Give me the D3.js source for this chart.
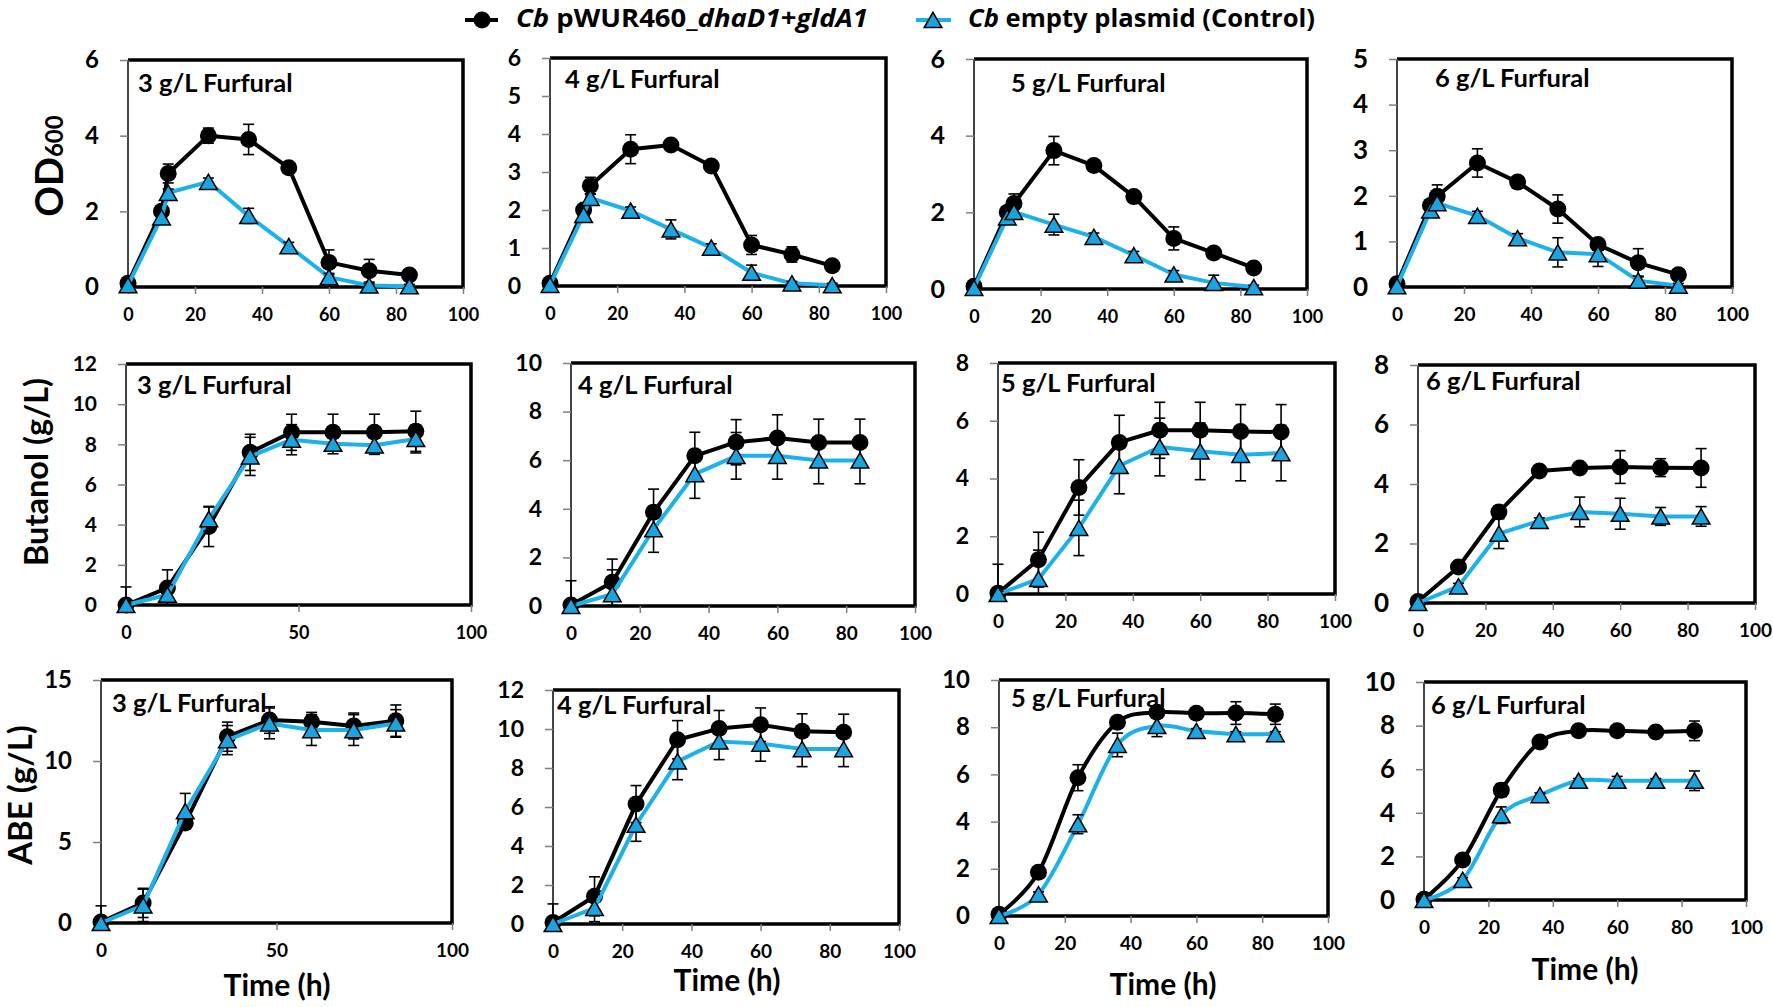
<!DOCTYPE html>
<html lang="en">
<head>
  <meta charset="UTF-8" />
  <title>Furfural tolerance of Cb strains</title>
  <script src="https://d3js.org/d3.v7.min.js"></script>
  <style>
    body { margin: 0; background: #fff; }
    svg text { font-family: Lato, "Open Sans", sans-serif; font-weight: 700; fill: #000; }
    svg text.legend { font-family: "Open Sans", Lato, sans-serif; }
  </style>
</head>
<body>
  <svg id="chart" width="1773" height="1007"></svg>

  <script>
    // sampling times (h)
    const timeOD = [0, 10, 12, 24, 36, 48, 60, 72, 84];
    const timeProd = [0, 12, 24, 36, 48, 60, 72, 84];
    const panelTitles = ["3 g/L Furfural", "4 g/L Furfural", "5 g/L Furfural", "6 g/L Furfural"];
    const seriesNames = ["pWUR460_", "empty plasmid (Control)"];

    // one row per furfural level: 3, 4, 5, 6 g/L
    const odGene = [
      [0.1, 2.0, 3.0, 4.0, 3.9, 3.15, 0.65, 0.43, 0.32],
      [0.07, 2.0, 2.64, 3.6, 3.71, 3.16, 1.08, 0.83, 0.53],
      [0.07, 2.0, 2.23, 3.61, 3.22, 2.41, 1.32, 0.94, 0.55],
      [0.07, 1.79, 1.99, 2.72, 2.3, 1.71, 0.93, 0.53, 0.27]
    ];
    const odGeneErr = [
      [0, 0, 0.25, 0.2, 0.4, 0.1, 0.33, 0.3, 0.1],
      [0, 0, 0.22, 0.38, 0.1, 0.1, 0.25, 0.2, 0.1],
      [0, 0, 0.25, 0.37, 0.12, 0.12, 0.3, 0.1, 0.1],
      [0, 0, 0.25, 0.31, 0.1, 0.31, 0.1, 0.31, 0.1]
    ];
    const odCtrl = [
      [0.05, 1.84, 2.49, 2.78, 1.88, 1.08, 0.26, 0.04, 0.02],
      [0.03, 1.87, 2.32, 1.98, 1.49, 1.01, 0.35, 0.07, 0.02],
      [0.03, 1.87, 2.01, 1.68, 1.36, 0.88, 0.38, 0.16, 0.05],
      [0.02, 1.68, 1.84, 1.56, 1.07, 0.76, 0.72, 0.14, 0.03]
    ];
    const odCtrlErr = [
      [0, 0, 0.1, 0.1, 0.2, 0.1, 0.1, 0.05, 0.05],
      [0, 0, 0.1, 0.1, 0.25, 0.1, 0.2, 0.05, 0.05],
      [0, 0, 0.1, 0.27, 0.1, 0.1, 0.1, 0.2, 0.05],
      [0, 0, 0.1, 0.1, 0.1, 0.32, 0.27, 0.1, 0.05]
    ];

    const butGene = [
      [0, 0.85, 3.91, 7.6, 8.6, 8.6, 8.6, 8.65],
      [0.04, 0.98, 3.86, 6.18, 6.74, 6.91, 6.73, 6.73],
      [0.03, 1.19, 3.69, 5.25, 5.67, 5.67, 5.63, 5.61],
      [0.05, 1.21, 3.06, 4.44, 4.54, 4.57, 4.55, 4.54]
    ];
    const butGeneErr = [
      [0.9, 0.9, 1.0, 0.9, 0.9, 0.9, 0.9, 1.0],
      [1.0, 0.95, 0.95, 0.97, 0.93, 0.96, 0.96, 0.96],
      [1.0, 0.95, 0.96, 0.94, 0.97, 0.97, 0.93, 0.95],
      [0.1, 0.1, 0.2, 0.1, 0.1, 0.55, 0.3, 0.65]
    ];
    const butCtrl = [
      [0, 0.51, 4.28, 7.4, 8.23, 8.03, 7.95, 8.27],
      [0, 0.49, 3.16, 5.43, 6.18, 6.18, 5.99, 5.99],
      [0, 0.52, 2.29, 4.44, 5.09, 4.94, 4.82, 4.88],
      [0, 0.56, 2.33, 2.76, 3.06, 3.0, 2.91, 2.91]
    ];
    const butCtrlErr = [
      [0.1, 0.5, 0.6, 0.95, 0.75, 0.5, 0.45, 0.7],
      [0.1, 1.0, 0.95, 1.0, 0.96, 0.96, 0.96, 0.96],
      [0.1, 1.0, 0.96, 0.97, 1.0, 0.98, 0.9, 0.96],
      [0, 0.1, 0.5, 0.1, 0.5, 0.52, 0.3, 0.33]
    ];

    const abeGene = [
      [0.06, 1.24, 6.18, 11.5, 12.53, 12.42, 12.16, 12.49],
      [0.08, 1.42, 6.15, 9.45, 10.02, 10.22, 9.88, 9.83],
      [0.07, 1.85, 5.86, 8.21, 8.63, 8.59, 8.6, 8.55],
      [0.03, 1.83, 5.04, 7.25, 7.76, 7.76, 7.71, 7.76]
    ];
    const abeGeneErr = [
      [1.0, 0.9, 0.3, 0.9, 0.82, 0.58, 0.8, 0.97],
      [0.95, 1.0, 0.95, 0.98, 0.93, 0.86, 0.9, 0.93],
      [0.1, 0.1, 0.55, 0.2, 0.2, 0.1, 0.48, 0.43],
      [0.05, 0.1, 0.3, 0.1, 0.1, 0.1, 0.1, 0.45]
    ];
    const abeCtrl = [
      [0, 1.09, 6.9, 11.29, 12.32, 11.91, 11.91, 12.32],
      [0, 0.82, 5.09, 8.34, 9.36, 9.25, 8.97, 8.97],
      [0, 0.92, 3.89, 7.25, 8.05, 7.84, 7.71, 7.71],
      [0, 0.92, 3.89, 4.81, 5.47, 5.47, 5.47, 5.47]
    ];
    const abeCtrlErr = [
      [0, 1.0, 1.1, 0.9, 0.95, 0.95, 0.95, 0.85],
      [0, 0.7, 0.85, 0.94, 0.93, 0.9, 0.9, 0.9],
      [0, 0.1, 0.4, 0.5, 0.45, 0.1, 0.1, 0.1],
      [0, 0.1, 0.38, 0.1, 0.1, 0.2, 0.1, 0.45]
    ];

    // axis ranges and tick steps
    const odYMax = [6, 6, 6, 5], odYStep = [2, 1, 2, 1];
    const butYMax = [12, 10, 8, 8], butYStep = [2, 2, 2, 2];
    const abeYMax = [15, 12, 10, 10], abeYStep = [5, 2, 2, 2];
    const odXStep = [20, 20, 20, 20], butXStep = [50, 20, 20, 20], abeXStep = [50, 20, 20, 20];

    const rows = [
      { time: timeOD, gene: odGene, geneErr: odGeneErr, ctrl: odCtrl, ctrlErr: odCtrlErr, yMax: odYMax, yStep: odYStep, xStep: odXStep },
      { time: timeProd, gene: butGene, geneErr: butGeneErr, ctrl: butCtrl, ctrlErr: butCtrlErr, yMax: butYMax, yStep: butYStep, xStep: butXStep },
      { time: timeProd, gene: abeGene, geneErr: abeGeneErr, ctrl: abeCtrl, ctrlErr: abeCtrlErr, yMax: abeYMax, yStep: abeYStep, xStep: abeXStep }
    ];

    // panel boxes [left, right, top, bottom], title anchor, font sizes
    const layout = [
      [
        { box: [128, 463, 60, 287], title: [138, 92], yFont: 24, xFont: 18 },
        { box: [550, 886, 58, 286], title: [565, 88], yFont: 23, xFont: 18 },
        { box: [974, 1307, 59, 289], title: [1011, 92], yFont: 25, xFont: 18 },
        { box: [1397, 1732, 59, 287], title: [1435, 87], yFont: 26, xFont: 19 }
      ],
      [
        { box: [126, 471, 364, 605], title: [137, 394], yFont: 21, xFont: 18 },
        { box: [571, 915, 363, 606], title: [578, 394], yFont: 23, xFont: 19 },
        { box: [998, 1335, 363, 594], title: [1001, 392], yFont: 23, xFont: 19 },
        { box: [1418, 1755, 365, 603], title: [1426, 390], yFont: 26, xFont: 19 }
      ],
      [
        { box: [101, 452, 680, 923], title: [112, 712], yFont: 24, xFont: 19 },
        { box: [553, 899, 690, 924], title: [557, 714], yFont: 23, xFont: 19 },
        { box: [999, 1328, 680, 916], title: [1011, 707], yFont: 24, xFont: 19, smooth: true },
        { box: [1424, 1746, 682, 900], title: [1431, 714], yFont: 26, xFont: 19, smooth: true }
      ]
    ];

    const black = "#000";
    const blue = "#1DB1EC";
    const blueFill = "#1AA5E0";
    const axisGray = "#7f7f7f";

    const svg = d3.select("#chart");
    svg.append("rect").attr("width", 1773).attr("height", 1007).attr("fill", "#fff");

    function drawPanel(row, col) {
      const r = rows[row];
      const L = layout[row][col];
      const [x0, x1, y0, y1] = L.box;
      const yMax = r.yMax[col];

      const x = d3.scaleLinear().domain([0, 100]).range([x0, x1]);
      const y = d3.scaleLinear().domain([0, yMax]).range([y1, y0]);
      const g = svg.append("g");

      // plot-area frame
      g.append("path")
        .attr("d", `M${x0},${y0}H${x1}V${y1}H${x0}`)
        .attr("fill", "none").attr("stroke", black).attr("stroke-width", 3.5);
      g.append("line").attr("x1", x0).attr("x2", x0).attr("y1", y0).attr("y2", y1)
        .attr("stroke", "#444").attr("stroke-width", 2);

      // axes
      const yAxis = g.append("g")
        .attr("transform", `translate(${x0},0)`)
        .call(d3.axisLeft(y).tickValues(d3.range(0, yMax + 0.001, r.yStep[col]))
          .tickFormat(d3.format("d")).tickSize(8).tickPadding(21));
      const xAxis = g.append("g")
        .attr("transform", `translate(0,${y1})`)
        .call(d3.axisBottom(x).tickValues(d3.range(0, 100.001, r.xStep[col]))
          .tickFormat(d3.format("d")).tickSize(7).tickPadding(14));
      [yAxis, xAxis].forEach(a => {
        a.select(".domain").remove();
        a.selectAll(".tick line").attr("stroke", axisGray).attr("stroke-width", 1.5);
      });
      yAxis.selectAll("text").attr("font-size", L.yFont);
      xAxis.selectAll("text").attr("font-size", L.xFont);

      // title
      g.append("text")
        .attr("x", L.title[0]).attr("y", L.title[1])
        .attr("font-size", 25.5)
        .text(panelTitles[col]);

      const curve = L.smooth ? d3.curveCatmullRom.alpha(0) : d3.curveLinear;
      const line = d3.line().x(d => x(d[0])).y(d => y(d[1])).curve(curve);

      const series = [
        { vals: r.gene[col], err: r.geneErr[col], color: black, marker: "circle" },
        { vals: r.ctrl[col], err: r.ctrlErr[col], color: blue, marker: "triangle" }
      ];

      series.forEach(s => {
        const pts = r.time.map((t, i) => [t, s.vals[i], s.err[i]]);
        g.append("path")
          .datum(pts)
          .attr("fill", "none")
          .attr("stroke", s.color)
          .attr("stroke-width", 4)
          .attr("stroke-linejoin", "round")
          .attr("d", line);

        // error bars (clipped to the plot area like the original)
        const eb = g.append("g").attr("stroke", black).attr("stroke-width", 1.6);
        pts.filter(p => p[2] > 0).forEach(p => {
          const lo = Math.max(0, p[1] - p[2]);
          const hi = Math.min(yMax, p[1] + p[2]);
          const cx = x(p[0]);
          eb.append("line").attr("x1", cx).attr("x2", cx).attr("y1", y(lo)).attr("y2", y(hi));
          if (p[1] + p[2] <= yMax) eb.append("line").attr("x1", cx - 5.5).attr("x2", cx + 5.5).attr("y1", y(hi)).attr("y2", y(hi));
          if (p[1] - p[2] >= 0) eb.append("line").attr("x1", cx - 5.5).attr("x2", cx + 5.5).attr("y1", y(lo)).attr("y2", y(lo));
        });

        if (s.marker === "circle") {
          g.append("g").selectAll("circle")
            .data(pts).join("circle")
            .attr("cx", d => x(d[0])).attr("cy", d => y(d[1]))
            .attr("r", 8.5).attr("fill", black);
        } else {
          g.append("g").selectAll("path")
            .data(pts).join("path")
            .attr("d", d3.symbol(d3.symbolTriangle, 135))
            .attr("transform", d => `translate(${x(d[0])},${y(d[1]) + 2.5})`)
            .attr("fill", blueFill).attr("stroke", black).attr("stroke-width", 1.5);
        }
      });
    }

    for (let row = 0; row < 3; row++)
      for (let col = 0; col < 4; col++) drawPanel(row, col);

    // y-axis titles
    const od = svg.append("text").attr("transform", "translate(63,166) rotate(-90)")
      .attr("text-anchor", "middle").attr("font-size", 38);
    od.append("tspan").text("OD");
    od.append("tspan").attr("font-size", 24).text("600");
    svg.append("text").attr("transform", "translate(48,472) rotate(-90)")
      .attr("text-anchor", "middle").attr("font-size", 32.5).text("Butanol (g/L)");
    svg.append("text").attr("transform", "translate(32,795) rotate(-90)")
      .attr("text-anchor", "middle").attr("font-size", 33).text("ABE (g/L)");

    // x-axis titles under the bottom row
    [[277, 996], [727, 991], [1163, 995], [1585, 980]].forEach(p => {
      svg.append("text").attr("x", p[0]).attr("y", p[1])
        .attr("text-anchor", "middle").attr("font-size", 30).text("Time (h)");
    });

    // legend
    const lg = svg.append("g");
    lg.append("line").attr("x1", 465).attr("x2", 498).attr("y1", 20).attr("y2", 20)
      .attr("stroke", black).attr("stroke-width", 4);
    lg.append("circle").attr("cx", 482).attr("cy", 20).attr("r", 8.5).attr("fill", black);
    const t1 = lg.append("text").attr("class", "legend").attr("x", 516).attr("y", 27)
      .attr("font-size", 25).attr("textLength", 352).attr("lengthAdjust", "spacingAndGlyphs");
    t1.append("tspan").attr("font-style", "italic").text("Cb ");
    t1.append("tspan").text(seriesNames[0]);
    t1.append("tspan").attr("font-style", "italic").text("dhaD1+gldA1");

    lg.append("line").attr("x1", 916).attr("x2", 951).attr("y1", 20).attr("y2", 20)
      .attr("stroke", blue).attr("stroke-width", 4);
    lg.append("path").attr("d", d3.symbol(d3.symbolTriangle, 135))
      .attr("transform", "translate(933,22.5)")
      .attr("fill", blueFill).attr("stroke", black).attr("stroke-width", 1.5);
    const t2 = lg.append("text").attr("class", "legend").attr("x", 968).attr("y", 27)
      .attr("font-size", 25).attr("textLength", 347).attr("lengthAdjust", "spacingAndGlyphs");
    t2.append("tspan").attr("font-style", "italic").text("Cb ");
    t2.append("tspan").text(seriesNames[1]);
  </script>
</body>
</html>
